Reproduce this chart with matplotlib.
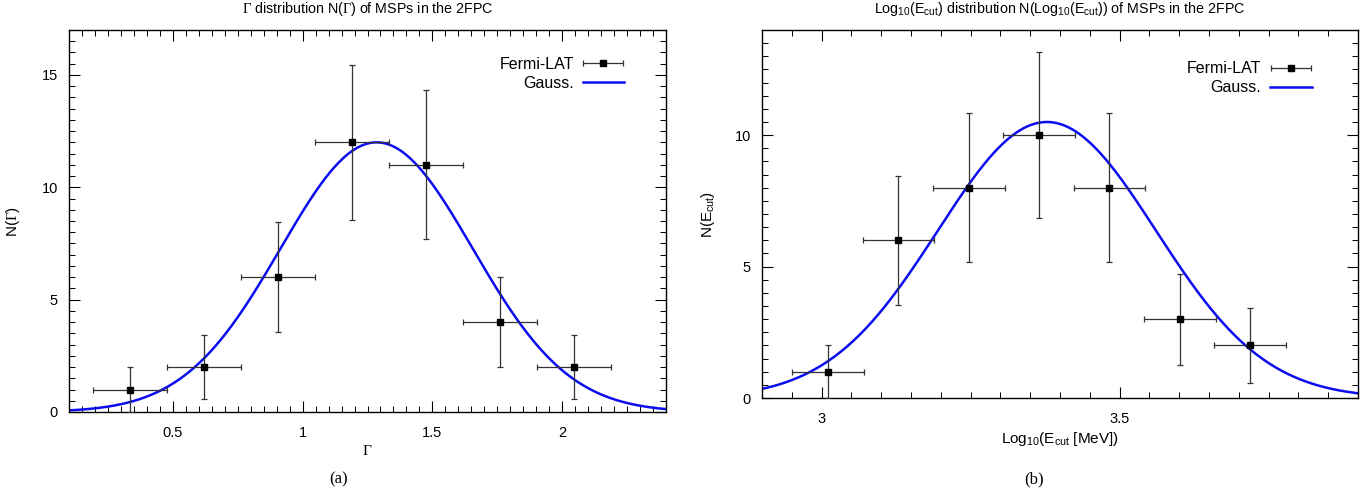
import numpy as np
import matplotlib
matplotlib.use("Agg")
import matplotlib.pyplot as plt
from matplotlib.ticker import MultipleLocator, FuncFormatter
from matplotlib.legend_handler import HandlerErrorbar

plt.rcParams['font.family'] = ['Liberation Sans', 'DejaVu Sans']
plt.rcParams['mathtext.fontset'] = 'custom'
plt.rcParams['mathtext.rm'] = 'Liberation Serif'
plt.rcParams['mathtext.sf'] = 'Liberation Sans'
plt.rcParams['mathtext.it'] = 'Liberation Serif:italic'
plt.rcParams['mathtext.bf'] = 'Liberation Serif:bold'

# (a) photon index distribution
gamma_x = [0.335, 0.62, 0.905, 1.19, 1.475, 1.76, 2.045]
gamma_xerr = [0.143, 0.143, 0.143, 0.143, 0.143, 0.143, 0.143]
gamma_n = [1, 2, 6, 12, 11, 4, 2]
gamma_nerr = [1.0, 1.41, 2.45, 3.46, 3.32, 2.0, 1.41]
gamma_fit = dict(amp=12.0, mu=1.285, sigma=0.37)

# (b) log10 cutoff energy distribution
ecut_x = [3.011, 3.129, 3.247, 3.365, 3.483, 3.601, 3.719]
ecut_xerr = [0.06, 0.06, 0.06, 0.06, 0.06, 0.06, 0.06]
ecut_n = [1, 6, 8, 10, 8, 3, 2]
ecut_nerr = [1.0, 2.45, 2.83, 3.16, 2.83, 1.73, 1.41]
ecut_fit = dict(amp=10.5, mu=3.378, sigma=0.183)

BLUE = '#0c0cf0'
ERR = '#333333'


def gauss(x, amp, mu, sigma):
    return amp * np.exp(-(x - mu) ** 2 / (2 * sigma ** 2))


def draw_panel(ax, x, xerr, n, nerr, fit, xlim, ylim, xmaj, title, xlabel, ylabel, leg_pos):
    eb = ax.errorbar(x, n, xerr=xerr, yerr=nerr, fmt='s', color='black', ecolor=ERR,
                     elinewidth=0.9, capsize=2.5, capthick=0.9, markersize=5,
                     label='Fermi-LAT', zorder=3)
    xs = np.linspace(xlim[0], xlim[1], 400)
    line, = ax.plot(xs, gauss(xs, **fit), color=BLUE, lw=1.8, label='Gauss.', zorder=2)

    ax.set_xlim(*xlim)
    ax.set_ylim(*ylim)
    ax.xaxis.set_major_locator(MultipleLocator(xmaj))
    ax.xaxis.set_minor_locator(MultipleLocator(0.05))
    ax.yaxis.set_major_locator(MultipleLocator(5))
    ax.yaxis.set_minor_locator(MultipleLocator(0.5))
    fmt = FuncFormatter(lambda v, p: '%g' % round(v, 3))
    ax.xaxis.set_major_formatter(fmt)
    ax.yaxis.set_major_formatter(fmt)
    ax.tick_params(which='both', direction='in', top=True, right=True, labelsize=10.5)
    ax.tick_params(which='major', length=8, width=0.8, pad=8)
    ax.tick_params(axis='x', which='major', pad=10)
    ax.tick_params(which='minor', length=4, width=0.7)
    for s in ax.spines.values():
        s.set_linewidth(1.0)

    ax.set_title(title, fontsize=10.3, pad=12)
    ax.set_xlabel(xlabel, fontsize=11)
    ax.set_ylabel(ylabel, fontsize=11)

    ax.legend([eb, line], ['Fermi-LAT', 'Gauss.'], loc='upper right',
              bbox_to_anchor=leg_pos, frameon=False,
              markerfirst=False, fontsize=11.5, handlelength=2.6, handletextpad=0.55,
              labelspacing=0.25, borderpad=0, borderaxespad=0,
              handler_map={type(eb): HandlerErrorbar(xerr_size=1.25, yerr_size=0.0)})


fig = plt.figure(figsize=(13.69, 4.94), dpi=100)
ax1 = fig.add_axes([0.0504, 0.166, 0.4361, 0.7733])
ax2 = fig.add_axes([0.5566, 0.1943, 0.4354, 0.745])

draw_panel(ax1, gamma_x, gamma_xerr, gamma_n, gamma_nerr, gamma_fit,
           (0.1, 2.4), (0, 17), 0.5,
           r'$\Gamma$ distribution N($\Gamma$) of MSPs in the 2FPC',
           r'$\Gamma$', r'N($\Gamma$)', (0.93, 0.93))
ax1.xaxis.set_label_coords(0.5, -0.085)
ax1.yaxis.set_label_coords(-0.078, 0.5)

draw_panel(ax2, ecut_x, ecut_xerr, ecut_n, ecut_nerr, ecut_fit,
           (2.9, 3.9), (0, 14), 0.5,
           r'Log$_{\mathsf{10}}$(E$_{\mathsf{cut}}$) distribution '
           r'N(Log$_{\mathsf{10}}$(E$_{\mathsf{cut}}$)) of MSPs in the 2FPC',
           r'Log$_{\mathsf{10}}$(E$_{\mathsf{cut}}$ [MeV])', r'N(E$_{\mathsf{cut}}$)',
           (0.922, 0.915))
ax2.xaxis.set_label_coords(0.5, -0.087)
ax2.yaxis.set_label_coords(-0.0755, 0.5)

fig.text(339 / 1369, 1 - 479 / 494, '(a)', family='Liberation Serif', fontsize=12,
         ha='center', va='center')
fig.text(1034 / 1369, 1 - 479 / 494, '(b)', family='Liberation Serif', fontsize=12,
         ha='center', va='center')

fig.savefig('out.png', dpi=100)
